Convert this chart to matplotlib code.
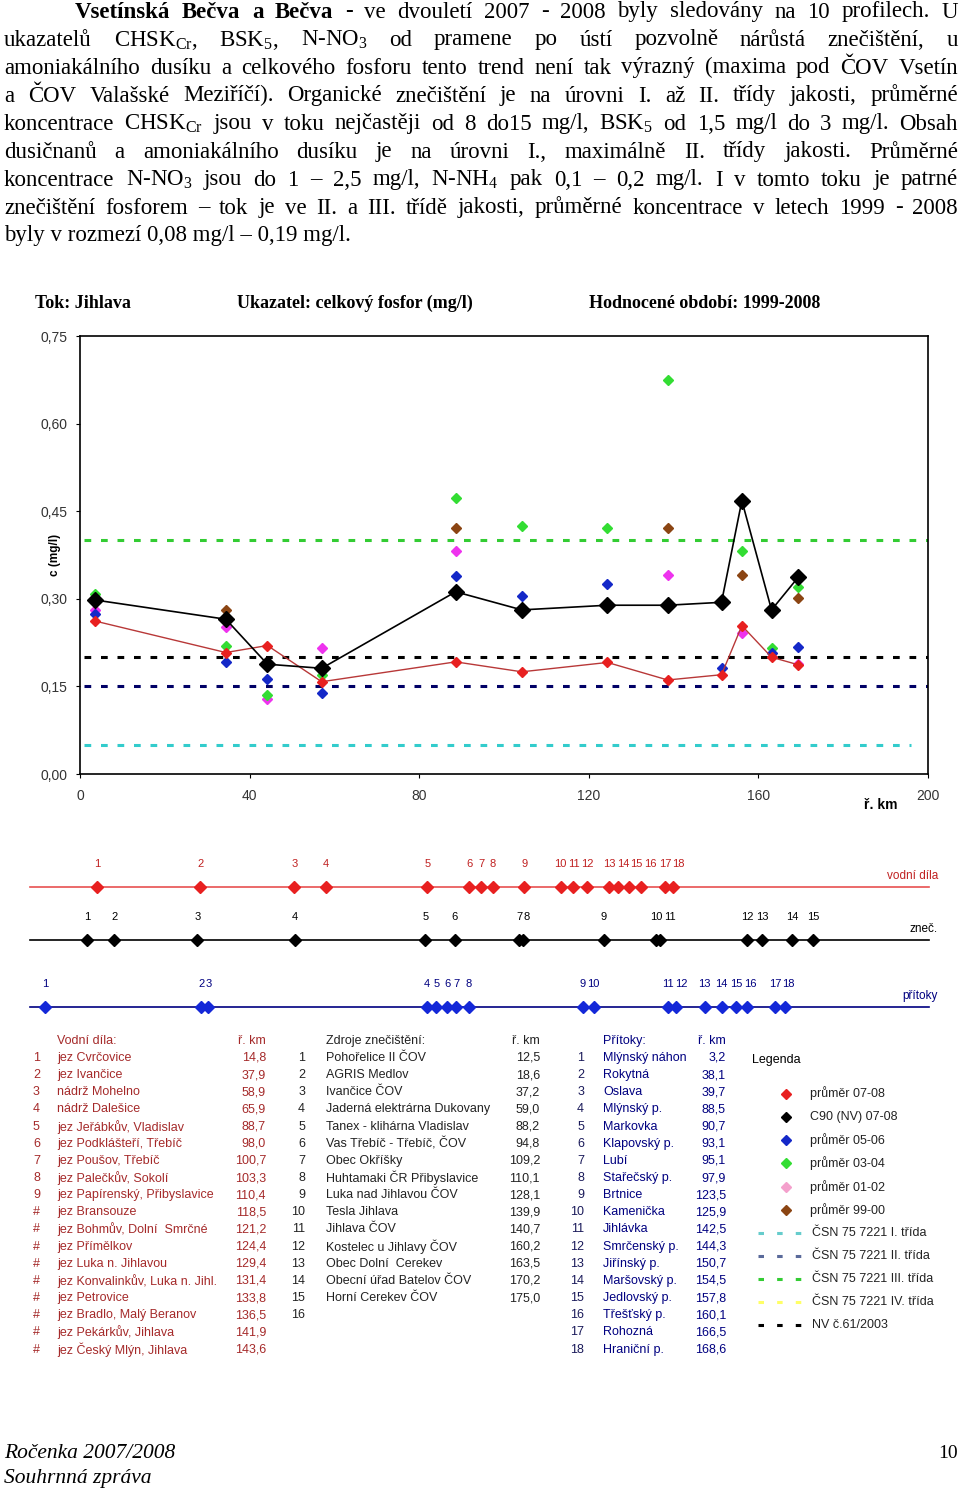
import numpy as np
import matplotlib.pyplot as plt
from matplotlib.ticker import FuncFormatter

plt.rcParams['font.family'] = ['Liberation Sans', 'DejaVu Sans']
plt.rcParams['mathtext.fontset'] = 'custom'
plt.rcParams['mathtext.rm'] = 'Liberation Serif'
plt.rcParams['mathtext.it'] = 'Liberation Serif:italic'
plt.rcParams['mathtext.bf'] = 'Liberation Serif:bold'

W, H = 960, 1492
nan = np.nan

# --- celkovy fosfor, Jihlava ---
km_profil = [3.5, 34.4, 44.2, 57.0, 88.6, 104.2, 124.4, 138.6, 151.3, 156.1, 163.1, 169.4]
c90_0708 = [0.298, 0.265, 0.188, 0.181, 0.312, 0.281, 0.289, 0.289, 0.294, 0.468, 0.281, 0.337]
prum_0708 = [0.262, 0.208, 0.220, 0.158, 0.192, 0.175, 0.191, 0.161, 0.170, 0.254, 0.200, 0.187]
prum_0506 = [0.274, 0.192, 0.163, 0.138, 0.339, 0.304, 0.326, nan, 0.182, nan, 0.208, 0.218]
prum_0304 = [0.308, 0.220, 0.135, 0.169, 0.472, 0.425, 0.421, 0.675, nan, 0.381, 0.216, 0.321]
prum_0102 = [0.281, 0.251, 0.129, 0.215, 0.382, nan, nan, 0.340, nan, 0.241, nan, 0.188]
prum_9900 = [nan, 0.281, nan, 0.181, 0.421, nan, nan, 0.421, nan, 0.341, nan, 0.301]

# limits: I. trida, II. trida, III. trida, NV 61/2003
limity = [0.05, 0.15, 0.40, 0.20]
limity_barvy = ['#33CCCC', '#000066', '#33CC33', 'black']
limity_konec = [196, 200, 200, 200]

# --- objects along the river ---
vodni_dila = ['jez Cvrčovice', 'jez Ivančice', 'nádrž Mohelno', 'nádrž Dalešice',
              'jez Jeřábkův, Vladislav', 'jez Podklášteří, Třebíč', 'jez Poušov, Třebíč',
              'jez Palečkův, Sokolí', 'jez Papírenský, Přibyslavice', 'jez Bransouze',
              'jez Bohmův, Dolní  Smrčné', 'jez Přímělkov', 'jez Luka n. Jihlavou',
              'jez Konvalinkův, Luka n. Jihl.', 'jez Petrovice', 'jez Bradlo, Malý Beranov',
              'jez Pekárkův, Jihlava', 'jez Český Mlýn, Jihlava']
km_vodni_dila = [14.8, 37.9, 58.9, 65.9, 88.7, 98.0, 100.7, 103.3, 110.4, 118.5,
                 121.2, 124.4, 129.4, 131.4, 133.8, 136.5, 141.9, 143.6]

zdroje = ['Pohořelice II ČOV', 'AGRIS Medlov', 'Ivančice ČOV', 'Jaderná elektrárna Dukovany',
          'Tanex - klihárna Vladislav', 'Vas Třebíč - Třebíč, ČOV', 'Obec Okříšky',
          'Huhtamaki ČR Přibyslavice', 'Luka nad Jihlavou ČOV', 'Tesla Jihlava', 'Jihlava ČOV',
          'Kostelec u Jihlavy ČOV', 'Obec Dolní  Cerekev', 'Obecní úřad Batelov ČOV',
          'Horní Cerekev ČOV']
km_zdroje = [12.5, 18.6, 37.2, 59.0, 88.2, 94.8, 109.2, 110.1, 128.1, 139.9, 140.7,
             160.2, 163.5, 170.2, 175.0]

pritoky = ['Mlýnský náhon', 'Rokytná', 'Oslava', 'Mlýnský p.', 'Markovka', 'Klapovský p.',
           'Lubí', 'Stařečský p.', 'Brtnice', 'Kamenička', 'Jihlávka', 'Smrčenský p.',
           'Jiřínský p.', 'Maršovský p.', 'Jedlovský p.', 'Třešťský p.', 'Rohozná', 'Hraniční p.']
km_pritoky = [3.2, 38.1, 39.7, 88.5, 90.7, 93.1, 95.1, 97.9, 123.5, 125.9, 142.5, 144.3,
              150.7, 154.5, 157.8, 160.1, 166.5, 168.6]

legenda_body = ['průměr 07-08', 'C90 (NV) 07-08', 'průměr 05-06', 'průměr 03-04',
                'průměr 01-02', 'průměr 99-00']
legenda_body_barvy = ['#E82020', 'black', '#1428C8', '#33DD33', '#F4A0CC', '#8B4513']
legenda_cary = ['ČSN 75 7221 I. třída', 'ČSN 75 7221 II. třída', 'ČSN 75 7221 III. třída',
                'ČSN 75 7221 IV. třída', 'NV č.61/2003']
legenda_cary_barvy = ['#66CCCC', '#5A6A9A', '#33CC33', '#FFFF66', 'black']

odstavec = [
    "Vsetínská Bečva a Bečva  - ve dvouletí 2007 - 2008 byly sledovány na 10 profilech. U",
    r"ukazatelů CHSK$_{\mathrm{Cr}}$, BSK$_5$, N-NO$_3$ od pramene po ústí pozvolně nárůstá znečištění, u",
    "amoniakálního dusíku a celkového fosforu tento trend není tak výrazný (maxima pod ČOV Vsetín",
    "a ČOV Valašské Meziříčí). Organické znečištění je na úrovni I. až II. třídy jakosti, průměrné",
    r"koncentrace CHSK$_{\mathrm{Cr}}$ jsou v toku nejčastěji od 8 do15 mg/l, BSK$_5$ od 1,5 mg/l do 3 mg/l. Obsah",
    "dusičnanů a amoniakálního dusíku je na úrovni I., maximálně II. třídy jakosti. Průměrné",
    r"koncentrace N-NO$_3$ jsou do 1 – 2,5 mg/l, N-NH$_4$ pak 0,1 – 0,2 mg/l. I v tomto toku je patrné",
    "znečištění fosforem – tok je ve II. a III. třídě jakosti, průměrné koncentrace v letech 1999 - 2008",
    "byly v rozmezí 0,08 mg/l – 0,19 mg/l.",
]

fig = plt.figure(figsize=(W / 100, H / 100), dpi=100)

# ---------------- main chart ----------------
ax = fig.add_axes([80 / W, 1 - 774 / H, 848 / W, 438 / H])
for val, col, end in zip(limity, limity_barvy, limity_konec):
    ax.plot([1, end], [val, val], color=col, lw=2.2, ls=(0, (2.2, 3.2)), zorder=1)
for vals, col in zip([prum_9900, prum_0102, prum_0304, prum_0506],
                     ['#8B4513', '#EE33EE', '#33DD33', '#1428C8']):
    ax.plot(km_profil, vals, 'D', ms=5.5, color=col, ls='none', zorder=3)
ax.plot(km_profil, prum_0708, color='#B83838', lw=1.0, zorder=4)
ax.plot(km_profil, prum_0708, 'D', ms=5.5, color='#E82020', ls='none', zorder=4)
ax.plot(km_profil, c90_0708, '-D', color='black', ms=8, lw=1.2, zorder=5)
ax.set_xlim(0, 200)
ax.set_ylim(0, 0.75)
ax.set_xticks(range(0, 201, 40))
ax.set_yticks([0, 0.15, 0.30, 0.45, 0.60, 0.75])
ax.yaxis.set_major_formatter(FuncFormatter(lambda v, p: f'{v:.2f}'.replace('.', ',')))
ax.tick_params(axis='x', direction='out', length=3, pad=8, labelsize=10, labelcolor='#333333')
ax.tick_params(axis='y', direction='out', length=3, pad=6, labelsize=10, labelcolor='#333333')
for s in ax.spines.values():
    s.set_linewidth(1.2)

# ---------------- strips along the river ----------------
px_per_km = 894 / 200


def label_shift(kms, labels):
    # small horizontal shifts so that neighbouring numbers do not overlap
    out, prev = [], None
    for k, lab in zip(kms, labels):
        x = k * px_per_km
        w = len(lab) * 6
        if prev is not None:
            x = max(x, prev[0] + (prev[1] + w) / 2 + 1.5)
        out.append((x - k * px_per_km) * 72 / 100)
        prev = (x, w)
    return out


radky = [
    (887, km_vodni_dila, '#E82020', '#E85050', '#C02020', 'vodní díla'),
    (940, km_zdroje, 'black', 'black', 'black', 'zneč.'),
    (1007, km_pritoky, '#1428D8', '#000080', '#000080', 'přítoky'),
]
for y, kms, mcol, lcol, tcol, nazev in radky:
    sa = fig.add_axes([31 / W, 1 - (y + 20) / H, 894 / W, 40 / H])
    sa.set_xlim(0, 200)
    sa.set_ylim(-1, 1)
    sa.axis('off')
    sa.plot([-0.3, 201], [0, 0], color=lcol, lw=1.2, clip_on=False)
    sa.plot(kms, [0] * len(kms), 'D', color=mcol, ms=6.5, ls='none', clip_on=False)
    labs = [str(i + 1) for i in range(len(kms))]
    for k, lab, dx in zip(kms, labs, label_shift(kms, labs)):
        sa.annotate(lab, (k, 0), xytext=(dx, 13), textcoords='offset points',
                    ha='center', va='bottom', fontsize=8, color=tcol, annotation_clip=False)
    fig.text(938 / W, 1 - (y - 11) / H, nazev, ha='right', va='center', fontsize=8.5, color=tcol)

# ---------------- overlay in pixel coordinates ----------------
ov = fig.add_axes([0, 0, 1, 1])
ov.set_xlim(0, W)
ov.set_ylim(H, 0)
ov.axis('off')

r = fig.canvas.get_renderer()
pfs = 16.5
for i, line in enumerate(odstavec):
    y = 17.5 + 28 * i
    if i == len(odstavec) - 1:
        ov.text(4, y, line, fontsize=pfs, family='Liberation Serif', va='baseline')
        continue
    x0 = 75 if i == 0 else 4
    words = line.split()
    texts = []
    for j, wd in enumerate(words):
        bold = (i == 0 and j < 5)
        texts.append(ov.text(0, y, wd, fontsize=pfs, family='Liberation Serif',
                             fontweight='bold' if bold else 'normal', va='baseline'))
    widths = [t.get_window_extent(renderer=r).width for t in texts]
    gap = (958 - x0 - sum(widths)) / (len(texts) - 1)
    x = x0
    for t, w in zip(texts, widths):
        t.set_x(x)
        x += w + gap

# chart header and axis labels
for x, s in [(35, 'Tok: Jihlava'), (237, 'Ukazatel: celkový fosfor (mg/l)'),
             (589, 'Hodnocené období: 1999-2008')]:
    ov.text(x, 303, s, fontsize=13, family='Liberation Serif', fontweight='bold', va='center')
ov.text(55, 555, 'c (mg/l)', fontsize=8.5, fontweight='bold', ha='center', va='center', rotation=90)
ov.text(881, 805, 'ř. km', fontsize=10, fontweight='bold', ha='center', va='center')

# tables
fs = 9
y0, dy, yh = 1058, 17.15, 1041
red_t, nav_t, blk_t = '#A52A2A', '#000080', '#222222'
ov.text(57, yh, 'Vodní díla:', fontsize=fs, color=red_t, va='center')
ov.text(266, yh, 'ř. km', fontsize=fs, color=red_t, va='center', ha='right')
for i, (n, k) in enumerate(zip(vodni_dila, km_vodni_dila)):
    yy = y0 + dy * i
    ov.text(33, yy, str(i + 1) if i < 9 else '#', fontsize=fs, color=red_t, va='center')
    ov.text(57, yy, n, fontsize=fs, color=red_t, va='center')
    ov.text(266, yy, f'{k:.1f}'.replace('.', ','), fontsize=fs, color=red_t, va='center', ha='right')

ov.text(326, yh, 'Zdroje znečištění:', fontsize=fs, color=blk_t, va='center')
ov.text(540, yh, 'ř. km', fontsize=fs, color=blk_t, va='center', ha='right')
for i in range(16):
    ov.text(305, y0 + dy * i, str(i + 1), fontsize=fs, color=blk_t, va='center', ha='right')
for i, (n, k) in enumerate(zip(zdroje, km_zdroje)):
    yy = y0 + dy * i
    ov.text(326, yy, n, fontsize=fs, color=blk_t, va='center')
    ov.text(540, yy, f'{k:.1f}'.replace('.', ','), fontsize=fs, color=blk_t, va='center', ha='right')

ov.text(603, yh, 'Přítoky:', fontsize=fs, color=nav_t, va='center')
ov.text(726, yh, 'ř. km', fontsize=fs, color=nav_t, va='center', ha='right')
for i, (n, k) in enumerate(zip(pritoky, km_pritoky)):
    yy = y0 + dy * i
    ov.text(584, yy, str(i + 1), fontsize=fs, color='#1A1A5A', va='center', ha='right')
    ov.text(603, yy, n, fontsize=fs, color=nav_t, va='center')
    ov.text(726, yy, f'{k:.1f}'.replace('.', ','), fontsize=fs, color=nav_t, va='center', ha='right')

# legend
ov.text(752, 1060, 'Legenda', fontsize=fs, color='black', va='center')
for i, (lab, col) in enumerate(zip(legenda_body, legenda_body_barvy)):
    yy = 1093.5 + 23.3 * i
    ov.plot([786], [yy], 'D', color=col, ms=5)
    ov.text(810, yy, lab, fontsize=fs, color=blk_t, va='center')
for i, (lab, col) in enumerate(zip(legenda_cary, legenda_cary_barvy)):
    yy = 1233 + 23 * i
    ov.plot([758, 801], [yy, yy], color=col, lw=2.2, ls=(0, (1.8, 4.3)))
    ov.text(812, yy, lab, fontsize=fs, color=blk_t, va='center')

# footer
ov.text(4, 1453, 'Ročenka 2007/2008', fontsize=15.5, family='Liberation Serif', style='italic', va='center')
ov.text(4, 1479, 'Souhrnná zpráva', fontsize=15.5, family='Liberation Serif', style='italic', va='center')
ov.text(958, 1453, '10', fontsize=14, family='Liberation Serif', ha='right', va='center')

fig.savefig('out.png', dpi=100)
